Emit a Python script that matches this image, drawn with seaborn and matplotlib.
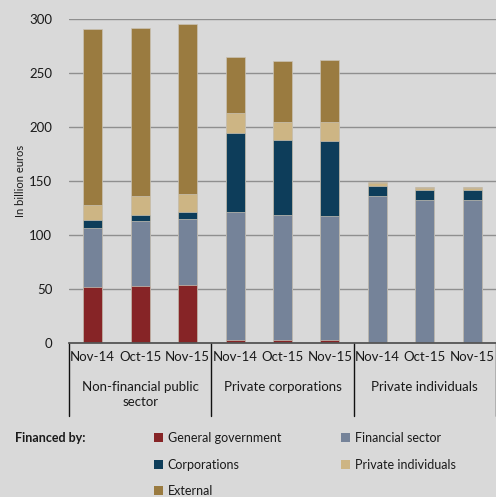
import numpy as np
import pandas as pd
import matplotlib
matplotlib.use("Agg")
import matplotlib.pyplot as plt
import seaborn as sns
from matplotlib.patches import Patch
import matplotlib.transforms as mtransforms

groups = ["Non-financial public\nsector", "Private corporations", "Private individuals"]
dates = ["Nov-14", "Oct-15", "Nov-15"]
series = ["General government", "Financial sector", "Corporations", "Private individuals", "External"]

general_government = [52, 53, 54, 3, 3, 3, 0, 0, 0]
financial_sector = [54, 59.5, 61, 118, 115.3, 114.7, 136, 132, 132]
corporations = [8, 6, 6, 73.5, 69.4, 69.3, 9.5, 9.5, 9.5]
private_individuals = [14, 17, 17, 18.5, 17, 17, 2, 2, 2]
external = [162, 156, 157, 51, 56, 57.3, 1, 0.5, 0.5]

colors = {
    "General government": "#862426",
    "Financial sector": "#758399",
    "Corporations": "#0d3d5a",
    "Private individuals": "#cdb584",
    "External": "#9a7b40",
}

bg = "#d9d9d9"
sns.set_theme(style="white")
plt.rcParams["font.family"] = ["Lato", "DejaVu Sans"]

fig = plt.figure(figsize=(4.96, 4.97), dpi=100, facecolor=bg)
ax = fig.add_axes([69 / 496, 154 / 497, 427 / 496, 324.5 / 497])
ax.set_facecolor(bg)

ids = [f"{g}|{d}" for g in groups for d in dates]
vals = [general_government, financial_sector, corporations, private_individuals, external]
cum = np.cumsum(np.array(vals, dtype=float), axis=0)

for i in range(len(series) - 1, -1, -1):
    df = pd.DataFrame({"id": ids, "value": cum[i]})
    sns.barplot(data=df, x="id", y="value", order=ids, color=colors[series[i]],
                saturation=1, width=0.4, ax=ax, edgecolor="#c9c2b4", linewidth=0.5,
                zorder=3)

ax.set_ylim(0, 300)
ax.set_xlim(-0.5, len(ids) - 0.5)
ax.set_yticks(np.arange(0, 301, 50))
ax.yaxis.grid(True, color="#8f8f8f", linewidth=1.0, zorder=0)
ax.set_axisbelow(True)
for s in ["top", "right", "left"]:
    ax.spines[s].set_visible(False)
ax.spines["bottom"].set_color("#555555")
ax.spines["bottom"].set_linewidth(1.3)
ax.spines["bottom"].set_zorder(5)
ax.tick_params(axis="y", length=0, pad=12, labelsize=9.5, colors="#1a1a1a")
ax.tick_params(axis="x", length=0, pad=6, labelsize=9.5, colors="#1a1a1a")
ax.set_xticks(range(len(ids)))
ax.set_xticklabels([d for g in groups for d in dates])
ax.set_xlabel("")
ax.set_ylabel("In billion euros", fontsize=8, color="#1a1a1a", labelpad=2)

trans = mtransforms.blended_transform_factory(ax.transData, ax.transAxes)
for xpos in [-0.5, 2.5, 5.5, 8.5]:
    ax.plot([xpos, xpos], [0, -73 / 324.5], transform=trans, color="#111111",
            linewidth=1.0, clip_on=False)
for gi, g in enumerate(groups):
    ax.text(gi * 3 + 1, -38 / 324.5, g, transform=trans, ha="center", va="top",
            fontsize=9.5, color="#1a1a1a", linespacing=1.3)

fig.text(15 / 496, 1 - 438 / 497, "Financed by:", fontsize=9, fontweight="bold",
         color="#1a1a1a", va="center", ha="left")

def mk(names, x):
    handles = [Patch(facecolor=colors[n], edgecolor="none") for n in names]
    leg = fig.legend(handles, names, loc="upper left", bbox_to_anchor=(x, 1 - 432 / 497),
                     frameon=False, fontsize=9, handlelength=0.75, handleheight=0.75,
                     handletextpad=0.35, labelspacing=1.17, borderaxespad=0, borderpad=0,
                     labelcolor="#1a1a1a")
    return leg

mk(["General government", "Corporations", "External"], 154 / 496)
mk(["Financial sector", "Private individuals"], 341 / 496)

fig.savefig("out.png", dpi=100, facecolor=bg)
